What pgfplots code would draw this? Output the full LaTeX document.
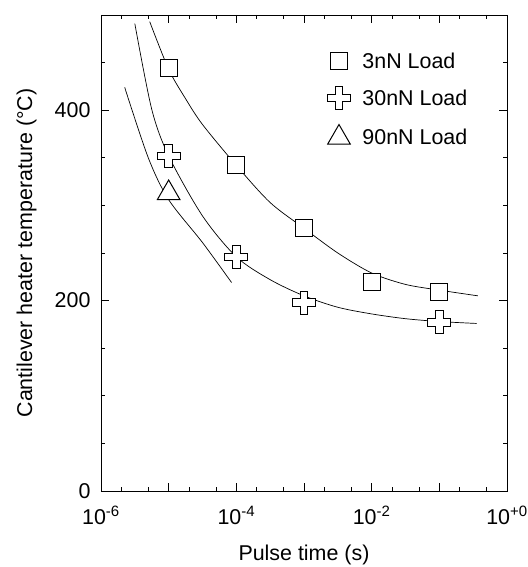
\documentclass[border=0pt]{standalone}
\usepackage{fontspec}
\setmainfont{Liberation Sans}
\usepackage{pgfplots}
\pgfplotsset{compat=1.18}

\pgfdeclareplotmark{hplus}{%
 \pgfpathmoveto{\pgfqpoint{-0.32\pgfplotmarksize}{\pgfplotmarksize}}%
 \pgfpathlineto{\pgfqpoint{0.32\pgfplotmarksize}{\pgfplotmarksize}}%
 \pgfpathlineto{\pgfqpoint{0.32\pgfplotmarksize}{0.32\pgfplotmarksize}}%
 \pgfpathlineto{\pgfqpoint{\pgfplotmarksize}{0.32\pgfplotmarksize}}%
 \pgfpathlineto{\pgfqpoint{\pgfplotmarksize}{-0.32\pgfplotmarksize}}%
 \pgfpathlineto{\pgfqpoint{0.32\pgfplotmarksize}{-0.32\pgfplotmarksize}}%
 \pgfpathlineto{\pgfqpoint{0.32\pgfplotmarksize}{-\pgfplotmarksize}}%
 \pgfpathlineto{\pgfqpoint{-0.32\pgfplotmarksize}{-\pgfplotmarksize}}%
 \pgfpathlineto{\pgfqpoint{-0.32\pgfplotmarksize}{-0.32\pgfplotmarksize}}%
 \pgfpathlineto{\pgfqpoint{-\pgfplotmarksize}{-0.32\pgfplotmarksize}}%
 \pgfpathlineto{\pgfqpoint{-\pgfplotmarksize}{0.32\pgfplotmarksize}}%
 \pgfpathlineto{\pgfqpoint{-0.32\pgfplotmarksize}{0.32\pgfplotmarksize}}%
 \pgfpathclose
 \pgfusepathqfillstroke
}

\begin{document}
\begin{tikzpicture}
\begin{axis}[
  scale only axis,
  width=406bp, height=476bp,
  xmode=log,
  xmin=1e-6, xmax=1,
  ymin=0, ymax=500,
  /pgf/number format/assume math mode=true,
  xtick={1e-6,1e-5,1e-4,1e-3,1e-2,1e-1,1},
  xticklabels={10\textsuperscript{-6},,10\textsuperscript{-4},,10\textsuperscript{-2},,10\textsuperscript{+0}},
  minor xtick={2e-6,5e-6,2e-5,5e-5,2e-4,5e-4,2e-3,5e-3,2e-2,5e-2,2e-1,5e-1},
  ytick={0,200,400},
  yticklabels={0,200,400},
  minor ytick={50,100,150,250,300,350,450},
  major tick length=8bp, minor tick length=4bp,
  tick style={black, line width=0.7pt},
  axis line style={line width=0.9pt},
  tick label style={font=\fontsize{21.5}{24}\selectfont},
  xticklabel style={yshift=-12bp},
  yticklabel style={xshift=-7bp},
  xlabel={Pulse time (s)},
  ylabel={Cantilever heater temperature (°C)},
  every axis y label/.style={at={(axis description cs:-0.183,0.5)}, rotate=90, anchor=center, font=\fontsize{21.5}{24}\selectfont},
  every axis x label/.style={at={(axis description cs:0.5,-0.134)}, anchor=center, font=\fontsize{21.5}{24}\selectfont},
  legend style={draw=none, fill=none, at={(0.55,0.93)}, anchor=north west,
    font=\fontsize{21.5}{24}\selectfont, row sep=15bp},
  legend cell align=left,
]
% fitted curves
\addplot[forget plot, smooth, black, line width=0.7pt] coordinates {
 (5.25e-6,493) (1e-5,443) (1.78e-5,412) (3.16e-5,385) (1e-4,342) (3.16e-4,303)
 (1e-3,276) (3.16e-3,250) (1e-2,229) (3.16e-2,217) (1e-1,211) (0.372,205)};
\addplot[forget plot, smooth, black, line width=0.7pt] coordinates {
 (3.16e-6,491) (5.62e-6,401) (1e-5,352) (3.16e-5,289) (1e-4,246) (3.16e-4,222)
 (1e-3,205) (3.16e-3,193) (1e-2,186) (3.16e-2,181) (1e-1,178) (0.355,176)};
\addplot[forget plot, smooth, black, line width=0.7pt] coordinates {
 (2.24e-6,424) (5.0e-6,350) (1e-5,306) (3.16e-5,261) (8.5e-5,219)};
% data
\addplot[only marks, mark=square*, mark size=8.5bp, mark options={fill=white, draw=black, line width=1pt}]
 coordinates {(1e-5,444) (1e-4,342) (1e-3,276) (1e-2,220) (1e-1,209)};
\addlegendentry{\hspace{10bp}3nN Load}
\addplot[only marks, mark=hplus, mark size=11.5bp, mark options={fill=white, draw=black, line width=1pt}]
 coordinates {(1e-5,352) (1e-4,246) (1e-3,198) (1e-1,177)};
\addlegendentry{\hspace{10bp}30nN Load}
\addplot[only marks, mark=triangle*, mark size=13bp, mark options={fill=white, draw=black, line width=1pt}]
 coordinates {(1e-5,313)};
\addlegendentry{\hspace{10bp}90nN Load}
\end{axis}
\pgfresetboundingbox
\path[use as bounding box] ([xshift=-101bp,yshift=-76bp]current axis.south west) rectangle ([xshift=21bp,yshift=15bp]current axis.north east);
\end{tikzpicture}
\end{document}
